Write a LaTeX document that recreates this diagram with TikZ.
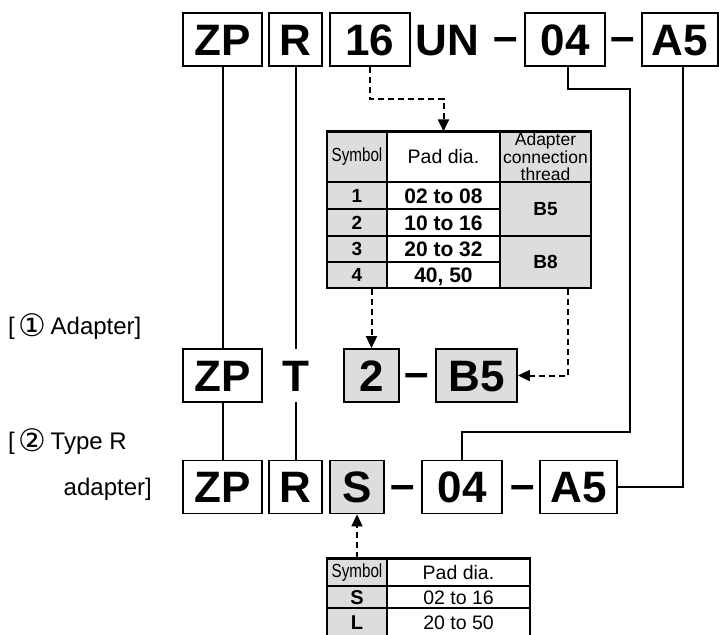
\documentclass[tikz,border=0pt]{standalone}
\usepackage{fontspec}
\setmainfont{Liberation Sans}
\newfontfamily\condfont[FakeStretch=0.8]{Liberation Sans}
\newfontfamily\symfont{DejaVu Sans}
\usetikzlibrary{arrows.meta,calc}
\definecolor{cellgray}{RGB}{221,221,221}
\newcommand\fsz[1]{\fontsize{#1}{#1}\selectfont}
\newcommand\circnum[1]{\raisebox{-2.5pt}{\symfont\fsz{31}#1}}
\begin{document}
\begin{tikzpicture}[x=1pt,y=-1pt,
  codebox/.style={draw, line width=1.8pt, inner sep=0pt, minimum height=53pt,
    text height=31.5pt, text depth=0pt, font={\fsz{44}\bfseries}},
  codetxt/.style={inner sep=0pt, minimum height=53pt,
    text height=31.5pt, text depth=0pt, font={\fsz{44}\bfseries}},
  graybox/.style={codebox, fill=cellgray},
  conn/.style={line width=2pt},
  dsh/.style={line width=2pt, dash pattern=on 6pt off 4pt},
  tip/.style={-{Triangle[width=11pt,length=12pt]}},
  cell/.style={draw, line width=1.1pt, inner sep=0pt, align=center},
  gcell/.style={cell, fill=cellgray},
  hdr/.style={font={\condfont\fsz{19}}},
  hdrw/.style={font={\fsz{19.5}}},
  bnum/.style={font={\fsz{19}\bfseries}, text height=13.6pt, text depth=0pt},
  bval/.style={font={\fsz{21}\bfseries}, text height=15pt, text depth=0pt},
  rval/.style={font={\fsz{19.5}}, text height=14pt, text depth=0pt},
  lab/.style={inner sep=0pt, font={\fsz{24}}}
]
\useasboundingbox (0,0) rectangle (719,634);

% ---- top row
\node[codebox, minimum width=79pt] (tZP) at (222.5,39.5) {ZP};
\node[codebox, minimum width=53pt] (tR) at (295.5,39.5) {R};
\node[codebox, minimum width=80pt] (t16) at (370,39.5) {16};
\node[codetxt] (tUN) at (447.5,39.5) {UN};
\node[codetxt] (td1) at (506,39.5) {\raisebox{3.5pt}{–}};
\node[codebox, minimum width=80pt] (t04) at (565,39.5) {04};
\node[codetxt] (td2) at (622.5,39.5) {\raisebox{3.5pt}{–}};
\node[codebox, minimum width=76pt] (tA5) at (680,39.5) {A5};

% ---- middle row
\node[codebox, minimum width=79pt] (mZP) at (222.5,375.5) {ZP};
\node[codetxt] (mT) at (295.5,375.5) {T};
\node[graybox, minimum width=55pt] (m2) at (371.5,375.5) {2};
\node[codetxt] (md1) at (416.5,375.5) {\raisebox{3.5pt}{–}};
\node[graybox, minimum width=81pt] (mB5) at (476.5,375.5) {B5};

% ---- bottom row
\node[codebox, minimum width=79pt] (bZP) at (222.5,487) {ZP};
\node[codebox, minimum width=53pt] (bR) at (295.5,487) {R};
\node[graybox, minimum width=54pt] (bS) at (357,487) {S};
\node[codetxt] (bd1) at (402.5,487) {\raisebox{3.5pt}{–}};
\node[codebox, minimum width=80pt] (b04) at (462,487) {04};
\node[codetxt] (bd2) at (522.5,487) {\raisebox{3.5pt}{–}};
\node[codebox, minimum width=77pt] (bA5) at (578.5,487) {A5};

% ---- left labels
\node[lab, anchor=base west] (lab1) at (8,334) {[\,\circnum{①}\,Adapter]};
\node[lab, anchor=base west] (lab2) at (8,449) {[\,\circnum{②}\,Type R};
\node[lab, anchor=base east] (lab3) at (152,495) {adapter]};

% ---- table 1
\node[gcell, minimum width=60pt, minimum height=50pt, hdr] (h1) at (357,157) {Symbol};
\node[cell, minimum width=113pt, minimum height=50pt, hdrw] (h2) at (443.5,157) {Pad dia.};
\node[gcell, minimum width=91pt, minimum height=50pt, font={\fsz{17.5}}] (h3) at (545.5,157)
  {\fontsize{17.5}{14.5}\selectfont Adapter\\connection\\thread};
\node[gcell, minimum width=60pt, minimum height=27pt, bnum] (r1c1) at (357,195.5) {1};
\node[cell, minimum width=113pt, minimum height=27pt, bval] (r1c2) at (443.5,195.5) {02 to 08};
\node[gcell, minimum width=60pt, minimum height=27pt, bnum] (r2c1) at (357,222.5) {2};
\node[cell, minimum width=113pt, minimum height=27pt, bval] (r2c2) at (443.5,222.5) {10 to 16};
\node[gcell, minimum width=60pt, minimum height=26pt, bnum] (r3c1) at (357,249) {3};
\node[cell, minimum width=113pt, minimum height=26pt, bval] (r3c2) at (443.5,249) {20 to 32};
\node[gcell, minimum width=60pt, minimum height=26pt, bnum] (r4c1) at (357,275) {4};
\node[cell, minimum width=113pt, minimum height=26pt, bval] (r4c2) at (443.5,275) {40, 50};
\node[gcell, minimum width=91pt, minimum height=54pt, bnum] (c3a) at (545.5,209) {B5};
\node[gcell, minimum width=91pt, minimum height=52pt, bnum] (c3b) at (545.5,262) {B8};
\draw[line width=2pt] (h1.north west) -- (h3.north east);

% ---- table 2
\node[gcell, minimum width=60pt, minimum height=27pt, hdr] (bh1) at (357,572.5) {Symbol};
\node[cell, minimum width=143pt, minimum height=27pt, hdrw] (bh2) at (458.5,572.5) {Pad dia.};
\node[gcell, minimum width=60pt, minimum height=22pt, font={\fsz{20}\bfseries}, text height=14.3pt, text depth=0pt] (bs1) at (357,597) {S};
\node[cell, minimum width=143pt, minimum height=22pt, rval] (bs2) at (458.5,597) {02 to 16};
\node[gcell, minimum width=60pt, minimum height=28pt, font={\fsz{20}\bfseries}, text height=14.3pt, text depth=0pt] (bl1) at (357,622) {L};
\node[cell, minimum width=143pt, minimum height=28pt, rval] (bl2) at (458.5,622) {20 to 50};
\draw[line width=2pt] (bh1.north west) -- (bh2.north east);

% ---- solid connectors
\draw[conn] (tZP.south) -- (mZP.north);
\draw[conn] (mZP.south) -- (bZP.north);
\draw[conn] (tR.south) -- (mT.north);
\draw[conn] (mT.south) -- (bR.north);
\coordinate (k1) at (630,89);
\coordinate (k2) at (462,432);
\draw[conn] ([xshift=3pt]t04.south) |- (k1) |- (k2) -- (b04.north);
\draw[conn] ([xshift=3pt]tA5.south) |- (bA5.east);

% ---- dashed connectors
\draw[dsh,tip] (t16.south) -- ++(0,32) -| (h2.north);
\draw[dsh,tip] (r4c1.south -| m2.north) -- (m2.north);
\coordinate (k4) at (568,289);
\draw[dsh,tip] (k4) |- (mB5.east);
\draw[dsh,tip] (bh1.north) -- (bS.south);
\end{tikzpicture}
\end{document}
